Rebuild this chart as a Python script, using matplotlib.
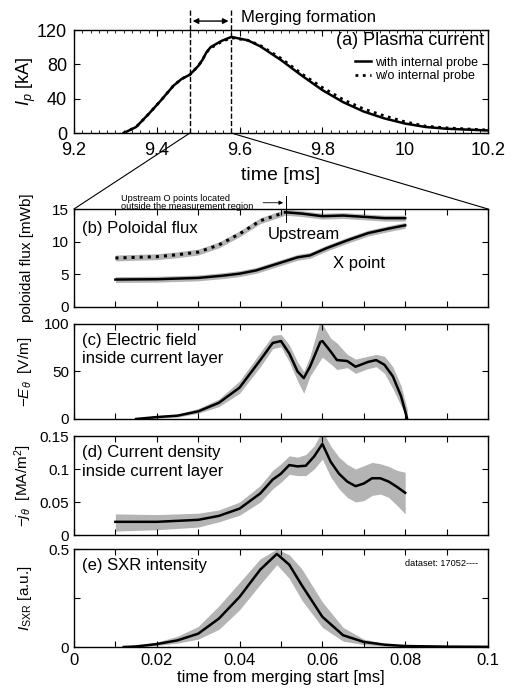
import matplotlib

matplotlib.use("Agg")
import matplotlib.pyplot as plt
from matplotlib.patches import ConnectionPatch
from matplotlib.ticker import MultipleLocator

plt.rcParams.update(
    {
        "font.family": ["Liberation Sans", "DejaVu Sans"],
        "mathtext.fontset": "custom",
        "mathtext.rm": "Liberation Sans",
        "mathtext.it": "Liberation Sans:italic",
        "xtick.direction": "in",
        "ytick.direction": "in",
        "xtick.top": True,
        "ytick.right": True,
        "axes.linewidth": 1.0,
    }
)

GRAY = "#b4b4b4"

# (a) plasma current
t_a = [9.32, 9.35, 9.38, 9.41, 9.44, 9.46, 9.48, 9.50, 9.51, 9.52, 9.53, 9.555, 9.58,
       9.62, 9.65, 9.70, 9.75, 9.80, 9.85, 9.90, 9.95, 10.0, 10.05, 10.10, 10.2]
ip_with = [0, 7, 22, 38, 55, 63, 68, 78, 85, 94, 100, 107, 112,
           108, 101, 85, 67, 50, 36, 25, 17, 11, 7, 5, 3]
ip_wo = [0, 7, 22, 38, 55, 63, 68, 78, 85, 94, 99, 106, 111,
         108, 102, 87, 69, 53, 39, 28, 20, 13, 8, 6, 3.5]
merge_start, merge_end = 9.48, 9.58

# (b) poloidal flux
t_up_out = [0.010, 0.015, 0.020, 0.025, 0.030, 0.035, 0.040, 0.045, 0.051]
psi_up_out = [7.5, 7.6, 7.7, 8.0, 8.4, 9.5, 11.2, 13.2, 14.5]
t_up_in = [0.051, 0.055, 0.060, 0.065, 0.070, 0.075, 0.080]
psi_up_in = [14.5, 14.3, 13.9, 14.0, 13.8, 13.6, 13.6]
t_x = [0.010, 0.020, 0.030, 0.036, 0.040, 0.044, 0.050, 0.054, 0.057, 0.061,
       0.066, 0.071, 0.076, 0.080]
psi_x = [4.2, 4.25, 4.45, 4.8, 5.1, 5.6, 6.8, 7.6, 7.9, 9.0, 10.2, 11.3, 12.0, 12.5]
psi_err = 0.45

# (c) electric field
t_c = [0.015, 0.020, 0.025, 0.030, 0.035, 0.040, 0.045, 0.048, 0.050, 0.052, 0.054,
       0.0555, 0.057, 0.0595, 0.060, 0.062, 0.0635, 0.066, 0.068, 0.071, 0.073,
       0.075, 0.077, 0.079, 0.0805]
e_c = [0, 2, 3.5, 8, 17, 33, 62, 80, 82, 69, 50, 43, 55, 81, 82, 71, 62, 61, 55,
       60, 62, 57, 45, 24, 0]
e_hi = [1, 3, 5, 11, 21, 40, 70, 88, 89, 78, 60, 50, 66, 104, 100, 85, 80, 68, 63,
        66, 68, 66, 55, 35, 10]
e_lo = [0, 1, 2, 6, 13, 27, 55, 74, 76, 60, 40, 27, 45, 62, 65, 58, 52, 54, 48,
        53, 55, 48, 32, 14, 0]

# (d) current density
t_d = [0.010, 0.020, 0.030, 0.035, 0.040, 0.045, 0.048, 0.050, 0.052, 0.054, 0.056,
       0.058, 0.060, 0.062, 0.064, 0.066, 0.068, 0.070, 0.072, 0.074, 0.076, 0.078,
       0.080]
j_d = [0.020, 0.020, 0.023, 0.029, 0.040, 0.063, 0.084, 0.093, 0.106, 0.104, 0.105,
       0.119, 0.138, 0.111, 0.093, 0.081, 0.074, 0.078, 0.086, 0.086, 0.081, 0.073,
       0.064]
j_hi = [0.032, 0.031, 0.033, 0.038, 0.050, 0.075, 0.098, 0.108, 0.120, 0.118, 0.122,
        0.135, 0.158, 0.135, 0.118, 0.107, 0.100, 0.105, 0.110, 0.108, 0.104, 0.098,
        0.095]
j_lo = [0.006, 0.008, 0.012, 0.020, 0.030, 0.050, 0.070, 0.080, 0.092, 0.090, 0.090,
        0.100, 0.115, 0.088, 0.070, 0.057, 0.050, 0.052, 0.060, 0.062, 0.057, 0.045,
        0.032]

# (e) SXR intensity
t_e = [0.012, 0.015, 0.020, 0.025, 0.030, 0.035, 0.040, 0.045, 0.049, 0.052, 0.055,
       0.060, 0.065, 0.070, 0.075, 0.080, 0.090, 0.100]
s_e = [0.0, 0.003, 0.015, 0.034, 0.068, 0.145, 0.256, 0.395, 0.475, 0.42, 0.316,
       0.154, 0.060, 0.026, 0.012, 0.005, 0.002, 0.001]
s_hi = [0.002, 0.006, 0.025, 0.055, 0.105, 0.21, 0.33, 0.45, 0.50, 0.47, 0.40,
        0.23, 0.10, 0.04, 0.018, 0.008, 0.003, 0.002]
s_lo = [0.0, 0.001, 0.008, 0.020, 0.040, 0.090, 0.19, 0.32, 0.42, 0.35, 0.24,
        0.10, 0.030, 0.012, 0.005, 0.002, 0.001, 0.0]

x_ticks = [0, 0.01, 0.02, 0.03, 0.04, 0.05, 0.06, 0.07, 0.08, 0.09, 0.1]
x_labels = ["0", "", "0.02", "", "0.04", "", "0.06", "", "0.08", "", "0.1"]

fig = plt.figure(figsize=(5.12, 6.9), dpi=100)
L, W = 0.1445, 0.8086
ax_a = fig.add_axes([L, 0.8072, W, 0.1493])
ax_b = fig.add_axes([L, 0.5551, W, 0.1420])
ax_c = fig.add_axes([L, 0.3928, W, 0.1377])
ax_d = fig.add_axes([L, 0.2246, W, 0.1435])
ax_e = fig.add_axes([L, 0.0623, W, 0.1420])

# ---- (a)
ax_a.plot(t_a, ip_wo, ":", color="black", lw=2.0, label="w/o internal probe")
ax_a.plot(t_a, ip_with, "-", color="black", lw=1.8, label="with internal probe")
ax_a.set_xlim(9.2, 10.2)
ax_a.set_ylim(0, 120)
ax_a.set_yticks([0, 40, 80, 120])
ax_a.set_xticks([9.2, 9.4, 9.6, 9.8, 10.0, 10.2])
ax_a.set_xticklabels(["9.2", "9.4", "9.6", "9.8", "10", "10.2"])
ax_a.xaxis.set_minor_locator(MultipleLocator(0.02))
ax_a.tick_params(which="both", top=True, right=True, labelsize=13, length=4)
ax_a.tick_params(axis="x", pad=6.5)
ax_a.tick_params(axis="y", pad=5)
ax_a.tick_params(which="minor", length=2.5)
ax_a.set_xlabel("time [ms]", fontsize=14, labelpad=6)
ax_a.set_ylabel(r"$I_p$ [kA]", fontsize=13)
ax_a.yaxis.set_label_coords(-0.088, 0.5)
ax_a.text(0.99, 0.90, "(a) Plasma current", transform=ax_a.transAxes,
          ha="right", va="center", fontsize=13)
h, lab = ax_a.get_legend_handles_labels()
ax_a.legend(h[::-1], lab[::-1], loc="upper right", bbox_to_anchor=(0.976, 0.74),
            frameon=False, fontsize=9, handlelength=1.3, handletextpad=0.3,
            labelspacing=0.1, borderaxespad=0, borderpad=0)
for xm in (merge_start, merge_end):
    ax_a.axvline(xm, ymin=0, ymax=1.215, ls="--", color="black", lw=1.0, clip_on=False)
ax_a.annotate("", xy=(merge_start, 1.087), xytext=(merge_end, 1.087),
              xycoords=("data", "axes fraction"), textcoords=("data", "axes fraction"),
              arrowprops=dict(arrowstyle="<|-|>", color="black", lw=1.0,
                              mutation_scale=8))
ax_a.text(9.603, 1.125, "Merging formation", transform=ax_a.get_xaxis_transform(),
          ha="left", va="center", fontsize=12)

# ---- (b)
for tt, yy in ((t_up_out, psi_up_out), (t_up_in, psi_up_in), (t_x, psi_x)):
    ax_b.fill_between(tt, [v - psi_err for v in yy], [v + psi_err for v in yy],
                      color=GRAY, lw=0)
ax_b.plot(t_up_out, psi_up_out, ":", color="black", lw=2.2)
ax_b.plot(t_up_in, psi_up_in, "-", color="black", lw=1.8)
ax_b.plot(t_x, psi_x, "-", color="black", lw=1.8)
ax_b.set_ylim(0, 15)
ax_b.set_yticks([0, 5, 10, 15])
ax_b.set_ylabel("poloidal flux [mWb]", fontsize=11)
ax_b.text(0.02, 0.80, "(b) Poloidal flux", transform=ax_b.transAxes,
          ha="left", va="center", fontsize=12)
ax_b.text(0.0468, 0.74, "Upstream", transform=ax_b.get_xaxis_transform(),
          ha="left", va="center", fontsize=12)
ax_b.text(0.0625, 0.44, "X point", transform=ax_b.get_xaxis_transform(),
          ha="left", va="center", fontsize=12)
ax_b.plot([0.0513, 0.0513], [1.135, 0.865], color="black", lw=0.7,
          transform=ax_b.get_xaxis_transform(), clip_on=False)
ax_b.text(0.0114, 1.065, "Upstream O points located\noutside the measurement region",
          transform=ax_b.get_xaxis_transform(), ha="left", va="center",
          fontsize=6.6, linespacing=0.85)
ax_b.annotate("", xy=(0.0512, 1.064), xytext=(0.0450, 1.064),
              xycoords=("data", "axes fraction"), textcoords=("data", "axes fraction"),
              arrowprops=dict(arrowstyle="-|>", color="black", lw=0.6,
                              mutation_scale=6))

# ---- (c)
ax_c.fill_between(t_c, e_lo, e_hi, color=GRAY, lw=0)
ax_c.plot(t_c, e_c, "-", color="black", lw=1.8)
ax_c.set_ylim(0, 100)
ax_c.set_yticks([0, 50, 100])
ax_c.set_ylabel(r"$-E_\theta$  [V/m]", fontsize=11)
ax_c.text(0.02, 0.73, "(c) Electric field\ninside current layer", transform=ax_c.transAxes,
          ha="left", va="center", fontsize=12, linespacing=1.3)

# ---- (d)
ax_d.fill_between(t_d, j_lo, j_hi, color=GRAY, lw=0)
ax_d.plot(t_d, j_d, "-", color="black", lw=1.8)
ax_d.set_ylim(0, 0.15)
ax_d.set_yticks([0, 0.05, 0.1, 0.15])
ax_d.set_yticklabels(["0", "0.05", "0.1", "0.15"])
ax_d.set_ylabel(r"$-j_\theta$  [MA/m$^2$]", fontsize=11)
ax_d.text(0.02, 0.74, "(d) Current density\ninside current layer", transform=ax_d.transAxes,
          ha="left", va="center", fontsize=12, linespacing=1.3)

# ---- (e)
ax_e.fill_between(t_e, s_lo, s_hi, color=GRAY, lw=0)
ax_e.plot(t_e, s_e, "-", color="black", lw=1.8)
ax_e.set_ylim(0, 0.5)
ax_e.set_yticks([0, 0.25, 0.5])
ax_e.set_yticklabels(["0", "", "0.5"])
ax_e.set_ylabel(r"$I_{\mathrm{SXR}}$ [a.u.]", fontsize=11)
ax_e.text(0.02, 0.83, "(e) SXR intensity", transform=ax_e.transAxes,
          ha="left", va="center", fontsize=12)
ax_e.text(0.975, 0.85, "dataset: 17052----", transform=ax_e.transAxes,
          ha="right", va="center", fontsize=6.6)
ax_e.set_xlabel("time from merging start [ms]", fontsize=12, labelpad=2)

for ax in (ax_b, ax_c, ax_d, ax_e):
    ax.set_xlim(0, 0.1)
    ax.set_xticks(x_ticks)
    ax.set_xticklabels(x_labels if ax is ax_e else [""] * len(x_ticks))
    ax.tick_params(top=True, right=True, labelsize=11, length=4)
    ax.yaxis.set_label_coords(-0.097, 0.5)
ax_e.tick_params(axis="x", labelsize=12, pad=4)

# zoom lines from (a) to (b)
for xa, xb in ((merge_start, 0), (merge_end, 1)):
    con = ConnectionPatch(xyA=(xa, 0), coordsA=ax_a.transData,
                          xyB=(xb, 1), coordsB=ax_b.transAxes,
                          color="black", lw=0.8)
    fig.add_artist(con)

fig.savefig("out.png", dpi=100)
